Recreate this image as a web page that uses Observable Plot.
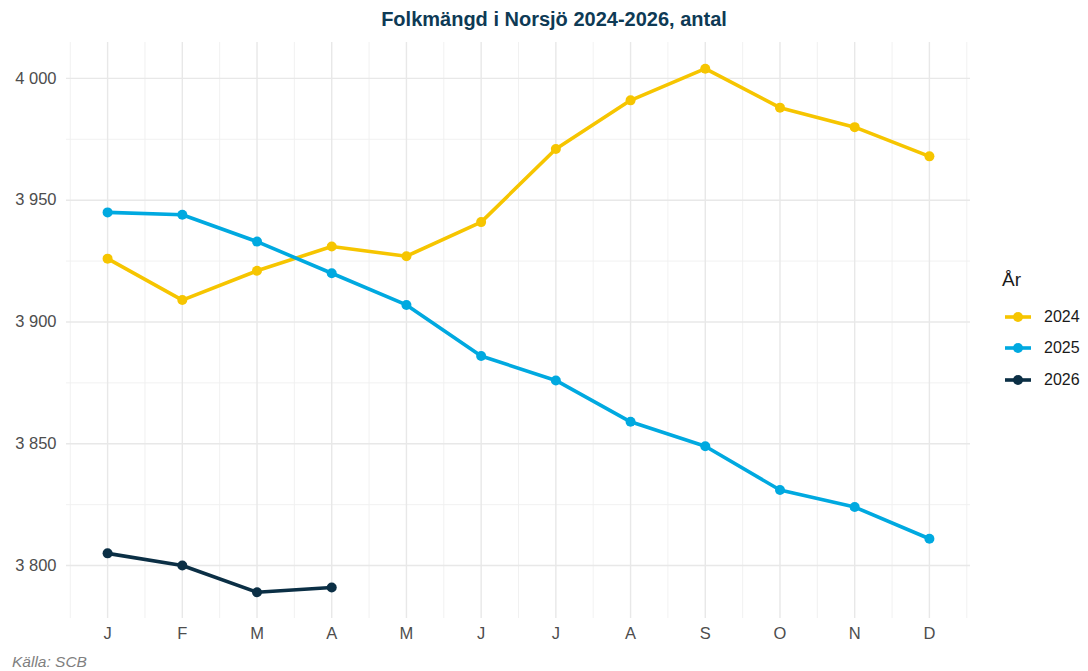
<!DOCTYPE html>
<html>
<head>
<meta charset="utf-8">
<script src="https://cdn.jsdelivr.net/npm/d3@7"></script>
<script src="https://cdn.jsdelivr.net/npm/@observablehq/plot@0.6"></script>
<style>
  body { margin: 0; background: #fff; font-family: "Liberation Sans", Arial, sans-serif; }
  #wrap { position: relative; width: 1088px; height: 671px; overflow: hidden; }
  #chart { position: absolute; left: 0; top: 0; }
  #title { position: absolute; top: 8px; left: 0; width: 1108px; text-align: center;
           font-size: 20px; font-weight: bold; color: #0e3a55; }
  #caption { position: absolute; left: 12px; top: 653px; font-size: 15.5px; font-style: italic; color: #7f7f7f; }
  #legend { position: absolute; left: 1002px; top: 269px; }
  #legend .lt { font-size: 19px; color: #1a1a1a; margin-bottom: 10px; }
  #legend .it { display: flex; align-items: center; height: 31.5px; font-size: 16px; color: #1a1a1a; }
  #legend svg { margin-right: 12px; }
</style>
</head>
<body>
<div id="wrap">
  <div id="chart"></div>
  <div id="title">Folkmängd i Norsjö 2024-2026, antal</div>
  <div id="legend"></div>
  <div id="caption">Källa: SCB</div>
</div>
<script>
const months = ["J","F","M","A","M","J","J","A","S","O","N","D"];
const years = ["2024","2025","2026"];
const colors = ["#F6C500","#00A9E0","#0B2F45"];
const v2024 = [3926,3909,3921,3931,3927,3941,3971,3991,4004,3988,3980,3968];
const v2025 = [3945,3944,3933,3920,3907,3886,3876,3859,3849,3831,3824,3811];
const v2026 = [3805,3800,3789,3791];
const yTicks = [3800,3850,3900,3950,4000];
const yMinor = [3825,3875,3925,3975];

const series = [v2024, v2025, v2026];
const data = [];
series.forEach((vals, i) => vals.forEach((v, j) => data.push({year: years[i], m: j + 1, value: v})));

const fmt = d3.formatLocale({decimal: ",", thousands: " ", grouping: [3], currency: ["", " kr"]}).format(",d");
const xMajor = d3.range(1, 13);
const xMinor = d3.range(0, 13).map(d => d + 0.5);

const plot = Plot.plot({
  width: 1088,
  height: 671,
  marginTop: 42,
  marginBottom: 53,
  marginLeft: 66,
  marginRight: 118,
  style: {fontFamily: "'Liberation Sans', Arial, sans-serif", background: "transparent"},
  x: {type: "linear", domain: [0.45, 12.55], label: null},
  y: {domain: [3778.25, 4014.75], label: null},
  color: {domain: years, range: colors},
  marks: [
    Plot.ruleX(xMinor, {x: d => d, stroke: "#efefef", strokeWidth: 0.9}),
    Plot.ruleY(yMinor, {y: d => d, stroke: "#efefef", strokeWidth: 0.9}),
    Plot.ruleX(xMajor, {x: d => d, stroke: "#e8e8e8", strokeWidth: 1.4}),
    Plot.ruleY(yTicks, {y: d => d, stroke: "#e8e8e8", strokeWidth: 1.4}),
    Plot.axisX({ticks: xMajor, tickFormat: d => months[d - 1], tickSize: 0, tickPadding: 9, fontSize: 16.5, fill: "#4d4d4d", label: null}),
    Plot.axisY({ticks: yTicks, tickFormat: fmt, tickSize: 0, tickPadding: 10, fontSize: 16.5, fill: "#4d4d4d", label: null}),
    Plot.line(data, {x: "m", y: "value", z: "year", stroke: "year", strokeWidth: 3.6, strokeLinejoin: "round"}),
    Plot.dot(data, {x: "m", y: "value", fill: "year", r: 5})
  ]
});
document.getElementById("chart").appendChild(plot);

const leg = d3.select("#legend");
leg.append("div").attr("class", "lt").text("År");
years.forEach((y, i) => {
  const it = leg.append("div").attr("class", "it");
  const s = it.append("svg").attr("width", 30).attr("height", 14);
  s.append("line").attr("x1", 3).attr("x2", 29).attr("y1", 7).attr("y2", 7)
    .attr("stroke", colors[i]).attr("stroke-width", 3.6);
  s.append("circle").attr("cx", 16).attr("cy", 7).attr("r", 5).attr("fill", colors[i]);
  it.append("span").text(y);
});
</script>
</body>
</html>
